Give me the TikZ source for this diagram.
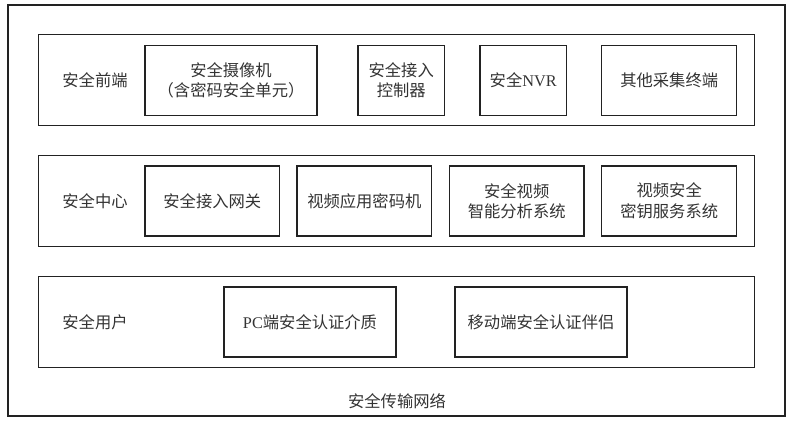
\documentclass[tikz,border=0pt]{standalone}
\usepackage{fontspec}
\setmainfont{Liberation Serif}
\newfontfamily\cjk{Noto Sans CJK SC}
\definecolor{linec}{HTML}{222222}
\definecolor{textc}{HTML}{333333}
\begin{document}
\begin{tikzpicture}[x=1pt,y=-1pt,
  every node/.style={text=textc, font=\fontsize{16.3}{20.5}\selectfont\cjk, inner sep=0pt},
  frame/.style={draw=linec, line width=1.2pt, rectangle},
  layerbox/.style={frame, minimum width=716pt, minimum height=91pt},
  itembox/.style={frame, minimum height=70pt, align=center},
  wide/.style={minimum width=172pt},
  mid/.style={minimum width=134.7pt},
  narrow/.style={minimum width=86.3pt},
  lbl/.style={anchor=center}
]
\useasboundingbox (0,0) rectangle (794,430);
\node[frame, minimum width=777pt, minimum height=411pt] (outer) at (396.5,210.5) {};
\node[lbl] (net) at (397,401) {安全传输网络};

\node[layerbox] (front) at (396.6,80.1) {};
\node[layerbox] (center) at (396.6,201.1) {};
\node[layerbox, minimum height=90.6pt] (user) at (396.6,322) {};

\node[lbl] (lfront) at (95,80) {安全前端};
\node[lbl] (lcenter) at (95,201) {安全中心};
\node[lbl] (luser) at (95,322) {安全用户};

\node[itembox, wide] (cam) at (231,80.2) {安全摄像机\\（含密码安全单元）};
\node[itembox, narrow] (ctrl) at (401.2,80.2) {安全接入\\控制器};
\node[itembox, narrow] (nvr) at (523.2,80.2) {安全{\rmfamily NVR}};
\node[itembox, minimum width=135pt] (other) at (669.2,80.2) {其他采集终端};

\node[itembox, mid] (gw) at (212.3,201) {安全接入网关};
\node[itembox, mid] (enc) at (364.3,201) {视频应用密码机};
\node[itembox, mid] (ana) at (516.7,201) {安全视频\\智能分析系统};
\node[itembox, minimum width=135pt] (key) at (669.2,201) {视频安全\\密钥服务系统};

\node[itembox, wide] (pc) at (310,322) {{\rmfamily PC}端安全认证介质};
\node[itembox, wide] (mob) at (541,322) {移动端安全认证伴侣};
\end{tikzpicture}
\end{document}
